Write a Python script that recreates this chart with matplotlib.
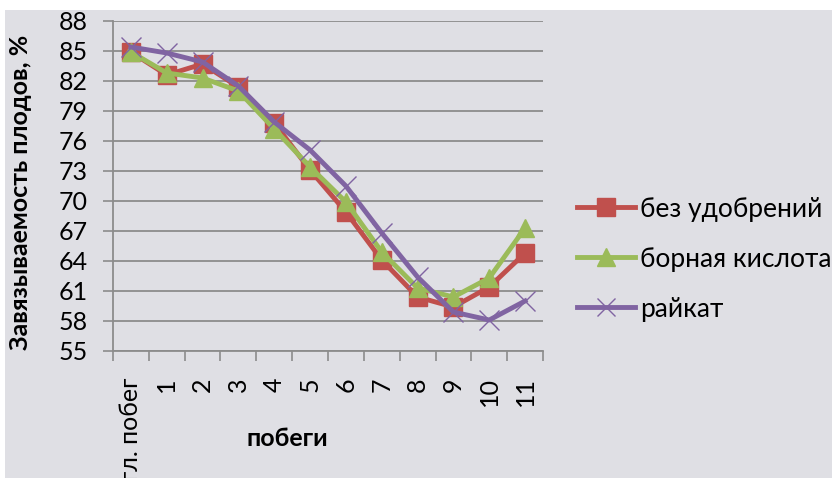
import matplotlib
matplotlib.use("Agg")
import matplotlib.pyplot as plt
from matplotlib.patches import Rectangle
import numpy as np

plt.rcParams['font.family'] = ['Lato', 'DejaVu Sans']

categories = ["гл. побег", "1", "2", "3", "4", "5", "6", "7", "8", "9", "10", "11"]
no_fertilizer = [84.9, 82.6, 83.7, 81.4, 77.8, 73.1, 68.9, 64.1, 60.4, 59.4, 61.4, 64.8]
boric_acid = [84.9, 82.8, 82.3, 81.0, 77.2, 73.4, 69.9, 64.9, 61.3, 60.4, 62.3, 67.3]
raykat = [85.4, 84.8, 83.9, 81.5, 77.9, 75.1, 71.5, 66.8, 62.4, 58.9, 58.1, 60.0]

series_names = ["без удобрений", "борная кислота", "райкат"]
colors = ["#C0504D", "#9BBB59", "#8064A2"]

bg = "#dfdfe4"
W, H = 832, 478
fig = plt.figure(figsize=(W / 100, H / 100), dpi=100, facecolor="white")
fig.add_artist(Rectangle((5 / W, 0), 1, 1 - 10 / H, transform=fig.transFigure,
                         facecolor=bg, edgecolor="none", zorder=-10))

ax = fig.add_axes([113 / W, (H - 351) / H, 430 / W, 330 / H])
ax.set_facecolor(bg)
ax.patch.set_alpha(0)

x = np.arange(len(categories))
ax.plot(x, no_fertilizer, color=colors[0], lw=3.5, marker="s", ms=13,
        label=series_names[0], zorder=3)
ax.plot(x, boric_acid, color=colors[1], lw=3.5, marker="^", ms=13,
        label=series_names[1], zorder=4)
ax.plot(x, raykat, color=colors[2], lw=3.5, marker="x", ms=14, mew=1,
        label=series_names[2], zorder=5)

ax.set_ylim(55, 88)
ax.set_yticks(np.arange(55, 89, 3))
ax.set_xlim(-0.5, len(categories) - 0.5)
ax.set_xticks(np.arange(-0.5, len(categories), 1.0))
ax.set_xticklabels([])
ax.set_xticks(x, minor=True)
ax.set_xticklabels(categories, minor=True, rotation=90, fontsize=18)
ax.tick_params(axis="x", which="minor", length=0, pad=19)
ax.tick_params(axis="x", which="major", length=7, width=1.2, color="#8c8c8c")
ax.tick_params(axis="y", length=7, width=1.2, color="#8c8c8c", labelsize=18, pad=11)

ax.grid(axis="y", color="#8c8c8c", lw=1.3)
ax.set_axisbelow(True)
for s in ["top", "right"]:
    ax.spines[s].set_visible(False)
for s in ["left", "bottom"]:
    ax.spines[s].set_color("#8c8c8c")
    ax.spines[s].set_linewidth(1.3)

ax.set_ylabel("Завязываемость плодов, %", fontsize=18, fontweight="bold", va="center")
ax.yaxis.set_label_coords(-0.216, 0.48)
ax.set_xlabel("побеги", fontsize=18, fontweight="bold", va="center")
ax.xaxis.set_label_coords(0.405, -0.264)

leg = fig.legend(loc="upper left", bbox_to_anchor=(566 / W, 1 - 186 / H),
                 frameon=False, fontsize=19, handlelength=2.2, handletextpad=0.2,
                 labelspacing=0.95, borderaxespad=0, markerscale=0.95)

fig.savefig("out.png", dpi=100, facecolor="white")
